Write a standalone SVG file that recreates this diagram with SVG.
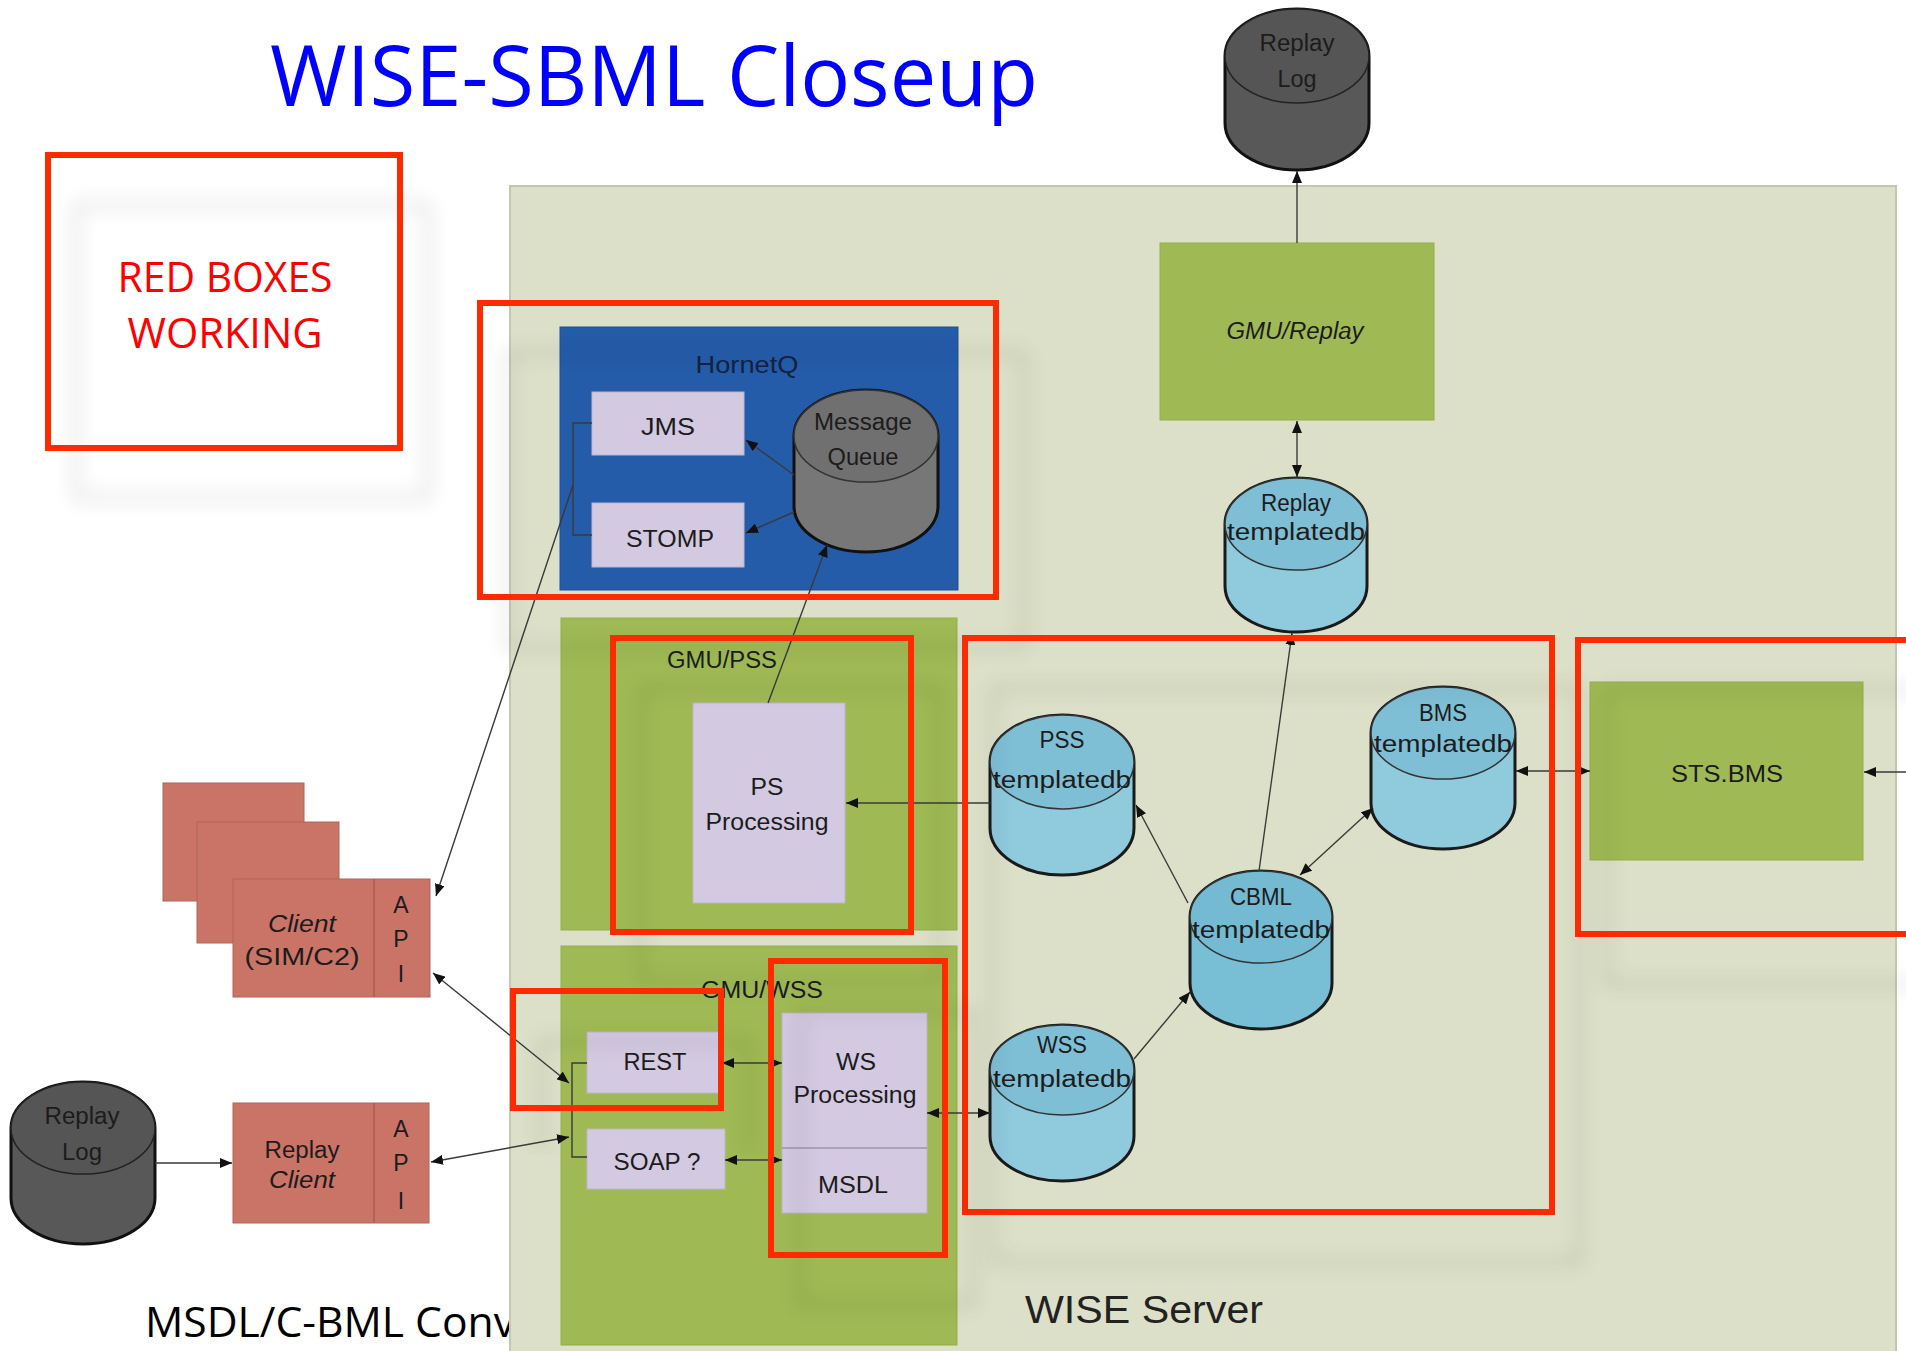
<svg xmlns="http://www.w3.org/2000/svg" width="1906" height="1351" viewBox="0 0 1906 1351">
<defs>
<style>
.lbl{font-family:"Liberation Sans","DejaVu Sans",sans-serif;font-size:23px;fill:#1c1c1c;text-anchor:middle}
.slide{font-family:"Open Sans","Noto Sans",sans-serif}
.red{fill:none;stroke:#FF2B00;stroke-width:6}
.green{fill:#9FBA54;stroke:#94ad4d;stroke-width:1}
.lav{fill:#D3C9E1;stroke:#bdb3cc;stroke-width:1}
.client{fill:#C97467;stroke:#b0645a;stroke-width:1}
.cylb{fill:#8FCADD;stroke:#1a1a1a;stroke-width:3}
.cylt{fill:#7EBFD6;stroke:#333;stroke-width:1.5}
.cylg{fill:#777;stroke:#111;stroke-width:3}
.cylgt{fill:#707070;stroke:#333;stroke-width:1.5}
.cyld{fill:#585858;stroke:#111;stroke-width:3}
.cyldt{fill:#555;stroke:#222;stroke-width:1.5}
.ln{fill:none;stroke:#3a3a3a;stroke-width:1.4}
</style>
<marker id="ah" viewBox="0 0 12 10" refX="12" refY="5" markerWidth="12" markerHeight="10" markerUnits="userSpaceOnUse" orient="auto-start-reverse">
<path d="M0,0 L12,5 L0,10 z" fill="#111"/>
</marker>
<filter id="sh" x="-20%" y="-20%" width="160%" height="160%">
<feOffset in="SourceAlpha" dx="28" dy="50" result="o"/>
<feGaussianBlur in="o" stdDeviation="10" result="b"/>
<feComponentTransfer in="b" result="c"><feFuncA type="linear" slope="0.14"/></feComponentTransfer>
<feMerge><feMergeNode in="c"/><feMergeNode in="SourceGraphic"/></feMerge>
</filter>
</defs>
<rect x="0" y="0" width="1906" height="1351" fill="#ffffff"/>

<g id="title">
<text class="slide" x="270" y="106" font-size="85" fill="#0000FF" textLength="768" lengthAdjust="spacingAndGlyphs">WISE-SBML Closeup</text>
</g>

<g id="caption">
<text class="slide" x="145" y="1337" font-size="42" fill="#000" textLength="370" lengthAdjust="spacingAndGlyphs">MSDL/C-BML Conv</text>
</g>

<g id="legend">
<rect class="red" x="48" y="155" width="352" height="293" filter="url(#sh)"/>
<text class="slide" x="225" y="292" font-size="42" fill="#FF0000" text-anchor="middle" textLength="215" lengthAdjust="spacingAndGlyphs">RED BOXES</text>
<text class="slide" x="225" y="348" font-size="42" fill="#FF0000" text-anchor="middle" textLength="195" lengthAdjust="spacingAndGlyphs">WORKING</text>
</g>

<g id="replay-log-top">
<path class="cyld" d="M1225,56 V123 A72,47 0 0 0 1369,123 V56 A72,47 0 0 0 1225,56 Z"/>
<ellipse class="cyldt" cx="1297" cy="56" rx="72" ry="47"/>
<text class="lbl" x="1297" y="51" textLength="75" lengthAdjust="spacingAndGlyphs">Replay</text>
<text class="lbl" x="1297" y="87" textLength="39" lengthAdjust="spacingAndGlyphs">Log</text>
</g>

<g id="wise-server">
<rect x="510" y="186" width="1386" height="1175" fill="#DDE0C8" stroke="#c3c6b2" stroke-width="2"/>
<text x="1025" y="1323" font-family="Liberation Sans, DejaVu Sans, sans-serif" font-size="39" fill="#222" textLength="238" lengthAdjust="spacingAndGlyphs">WISE Server</text>
</g>

<g id="gmu-replay">
<rect class="green" x="1160" y="243" width="274" height="177"/>
<text class="lbl" x="1295" y="339" textLength="137" lengthAdjust="spacingAndGlyphs" font-style="italic">GMU/Replay</text>
</g>

<g id="replay-templatedb">
<path class="cylb" d="M1225,524 V586 A71,46 0 0 0 1367,586 V524 A71,46 0 0 0 1225,524 Z"/>
<ellipse class="cylt" cx="1296" cy="524" rx="71" ry="46"/>
<text class="lbl" x="1296" y="511" textLength="70" lengthAdjust="spacingAndGlyphs">Replay</text>
<text class="lbl" x="1296" y="540" textLength="138" lengthAdjust="spacingAndGlyphs">templatedb</text>
</g>

<g id="hornetq">
<rect x="560" y="327" width="398" height="263" fill="#245CAA" stroke="#1f4f93" stroke-width="1"/>
<text class="lbl" x="747" y="373" style="fill:#14223f" font-size="25" textLength="103" lengthAdjust="spacingAndGlyphs">HornetQ</text>
</g>
<g id="jms">
<rect class="lav" x="592" y="392" width="152" height="63"/>
<text class="lbl" x="668" y="435" font-size="26" textLength="54" lengthAdjust="spacingAndGlyphs">JMS</text>
</g>
<g id="stomp">
<rect class="lav" x="592" y="503" width="152" height="64"/>
<text class="lbl" x="670" y="547" font-size="26" textLength="88" lengthAdjust="spacingAndGlyphs">STOMP</text>
</g>
<g id="message-queue">
<path class="cylg" d="M794,436 V506 A72,46 0 0 0 938,506 V436 A72,46 0 0 0 794,436 Z"/>
<ellipse class="cylgt" cx="866" cy="436" rx="72" ry="46"/>
<text class="lbl" x="863" y="430" textLength="98" lengthAdjust="spacingAndGlyphs">Message</text>
<text class="lbl" x="863" y="465" textLength="71" lengthAdjust="spacingAndGlyphs">Queue</text>
</g>

<g id="gmu-pss">
<rect class="green" x="561" y="618" width="396" height="312"/>
<text class="lbl" x="722" y="668" font-size="27" textLength="110" lengthAdjust="spacingAndGlyphs">GMU/PSS</text>
</g>
<g id="ps-processing">
<rect class="lav" x="693" y="703" width="152" height="200"/>
<text class="lbl" x="767" y="795" font-size="25" textLength="33" lengthAdjust="spacingAndGlyphs">PS</text>
<text class="lbl" x="767" y="830" font-size="25" textLength="123" lengthAdjust="spacingAndGlyphs">Processing</text>
</g>

<g id="gmu-wss">
<rect class="green" x="561" y="946" width="396" height="399"/>
<text class="lbl" x="762" y="998" font-size="27" textLength="122" lengthAdjust="spacingAndGlyphs">GMU/WSS</text>
</g>
<g id="rest">
<rect class="lav" x="587" y="1032" width="135" height="61"/>
<text class="lbl" x="655" y="1070" font-size="25" textLength="63" lengthAdjust="spacingAndGlyphs">REST</text>
</g>
<g id="soap">
<rect class="lav" x="587" y="1129" width="138" height="60"/>
<text class="lbl" x="657" y="1170" font-size="25" textLength="87" lengthAdjust="spacingAndGlyphs">SOAP ?</text>
</g>
<g id="ws-processing">
<rect class="lav" x="782" y="1013" width="145" height="200"/>
<line x1="782" y1="1148" x2="927" y2="1148" stroke="#9e94ad" stroke-width="1.5"/>
<text class="lbl" x="856" y="1070" font-size="25" textLength="40" lengthAdjust="spacingAndGlyphs">WS</text>
<text class="lbl" x="855" y="1103" font-size="25" textLength="123" lengthAdjust="spacingAndGlyphs">Processing</text>
<text class="lbl" x="853" y="1193" font-size="25" textLength="70" lengthAdjust="spacingAndGlyphs">MSDL</text>
</g>

<g id="pss-templatedb">
<path class="cylb" d="M990,762 V828 A72,47 0 0 0 1134,828 V762 A72,47 0 0 0 990,762 Z"/>
<ellipse class="cylt" cx="1062" cy="762" rx="72" ry="47"/>
<text class="lbl" x="1062" y="748" textLength="45" lengthAdjust="spacingAndGlyphs">PSS</text>
<text class="lbl" x="1062" y="788" textLength="138" lengthAdjust="spacingAndGlyphs">templatedb</text>
</g>
<g id="bms-templatedb">
<path class="cylb" d="M1371,733 V803 A72,46 0 0 0 1515,803 V733 A72,46 0 0 0 1371,733 Z"/>
<ellipse class="cylt" cx="1443" cy="733" rx="72" ry="46"/>
<text class="lbl" x="1443" y="721" textLength="48" lengthAdjust="spacingAndGlyphs">BMS</text>
<text class="lbl" x="1443" y="752" textLength="138" lengthAdjust="spacingAndGlyphs">templatedb</text>
</g>
<g id="cbml-templatedb">
<path class="cylb" d="M1190,917 V983 A71,46 0 0 0 1332,983 V917 A71,46 0 0 0 1190,917 Z" style="fill:#78BED5"/>
<ellipse class="cylt" cx="1261" cy="917" rx="71" ry="46" style="fill:#74BAD3"/>
<text class="lbl" x="1261" y="905" textLength="62" lengthAdjust="spacingAndGlyphs">CBML</text>
<text class="lbl" x="1261" y="938" textLength="138" lengthAdjust="spacingAndGlyphs">templatedb</text>
</g>
<g id="wss-templatedb">
<path class="cylb" d="M990,1070 V1136 A72,45 0 0 0 1134,1136 V1070 A72,45 0 0 0 990,1070 Z"/>
<ellipse class="cylt" cx="1062" cy="1070" rx="72" ry="45"/>
<text class="lbl" x="1062" y="1053" textLength="50" lengthAdjust="spacingAndGlyphs">WSS</text>
<text class="lbl" x="1062" y="1087" textLength="138" lengthAdjust="spacingAndGlyphs">templatedb</text>
</g>

<g id="sts-bms">
<rect class="green" x="1590" y="682" width="273" height="178"/>
<text class="lbl" x="1727" y="782" font-size="25" textLength="112" lengthAdjust="spacingAndGlyphs">STS.BMS</text>
</g>

<g id="client">
<rect class="client" x="163" y="783" width="141" height="118"/>
<rect class="client" x="197" y="822" width="142" height="121"/>
<rect class="client" x="233" y="879" width="197" height="118"/>
<line x1="374" y1="879" x2="374" y2="997" stroke="#a85e54" stroke-width="1.5"/>
<text class="lbl" x="302" y="932" font-style="italic" textLength="68" lengthAdjust="spacingAndGlyphs">Client</text>
<text class="lbl" x="302" y="965" textLength="115" lengthAdjust="spacingAndGlyphs">(SIM/C2)</text>
<text class="lbl" x="401" y="913">A</text>
<text class="lbl" x="401" y="947">P</text>
<text class="lbl" x="401" y="982">I</text>
</g>

<g id="replay-client">
<rect class="client" x="233" y="1103" width="196" height="120"/>
<line x1="374" y1="1103" x2="374" y2="1223" stroke="#a85e54" stroke-width="1.5"/>
<text class="lbl" x="302" y="1158" textLength="75" lengthAdjust="spacingAndGlyphs">Replay</text>
<text class="lbl" x="302" y="1188" font-style="italic" textLength="66" lengthAdjust="spacingAndGlyphs">Client</text>
<text class="lbl" x="401" y="1137">A</text>
<text class="lbl" x="401" y="1171">P</text>
<text class="lbl" x="401" y="1209">I</text>
</g>

<g id="replay-log-left">
<path class="cyld" d="M11,1128 V1198 A72,46 0 0 0 155,1198 V1128 A72,46 0 0 0 11,1128 Z"/>
<ellipse class="cyldt" cx="83" cy="1128" rx="72" ry="46"/>
<text class="lbl" x="82" y="1124" textLength="75" lengthAdjust="spacingAndGlyphs">Replay</text>
<text class="lbl" x="82" y="1160" textLength="40" lengthAdjust="spacingAndGlyphs">Log</text>
</g>

<g id="connectors">
<line class="ln" x1="1297" y1="243" x2="1297" y2="171" marker-end="url(#ah)"/>
<line class="ln" x1="1297" y1="421" x2="1297" y2="477" marker-start="url(#ah)" marker-end="url(#ah)"/>
<line class="ln" x1="1259" y1="871" x2="1292" y2="633" marker-end="url(#ah)"/>
<line class="ln" x1="1188" y1="903" x2="1136" y2="805" marker-end="url(#ah)"/>
<line class="ln" x1="1300" y1="875" x2="1373" y2="808" marker-start="url(#ah)" marker-end="url(#ah)"/>
<line class="ln" x1="1134" y1="1059" x2="1190" y2="992" marker-end="url(#ah)"/>
<line class="ln" x1="1516" y1="771" x2="1590" y2="771" marker-start="url(#ah)" marker-end="url(#ah)"/>
<line class="ln" x1="1906" y1="772" x2="1864" y2="772" marker-end="url(#ah)"/>
<line class="ln" x1="990" y1="803" x2="846" y2="803" marker-end="url(#ah)"/>
<line class="ln" x1="768" y1="703" x2="827" y2="545" marker-end="url(#ah)"/>
<line class="ln" x1="794" y1="475" x2="746" y2="440" marker-end="url(#ah)"/>
<line class="ln" x1="794" y1="512" x2="746" y2="533" marker-end="url(#ah)"/>
<path class="ln" d="M592,423 H573 V535 H592"/>
<line class="ln" x1="573" y1="485" x2="436" y2="896" marker-end="url(#ah)"/>
<line class="ln" x1="433" y1="973" x2="569" y2="1083" marker-start="url(#ah)" marker-end="url(#ah)"/>
<line class="ln" x1="155" y1="1163" x2="232" y2="1163" marker-end="url(#ah)"/>
<line class="ln" x1="431" y1="1162" x2="569" y2="1137" marker-start="url(#ah)" marker-end="url(#ah)"/>
<path class="ln" d="M587,1063 H572 V1157 H587"/>
<line class="ln" x1="722" y1="1063" x2="782" y2="1063" marker-start="url(#ah)" marker-end="url(#ah)"/>
<line class="ln" x1="725" y1="1160" x2="782" y2="1160" marker-start="url(#ah)" marker-end="url(#ah)"/>
<line class="ln" x1="927" y1="1113" x2="990" y2="1113" marker-start="url(#ah)" marker-end="url(#ah)"/>
</g>

<g id="red-boxes">
<rect class="red" x="480" y="303" width="516" height="294" filter="url(#sh)"/>
<rect class="red" x="613" y="638" width="298" height="294" filter="url(#sh)"/>
<rect class="red" x="965" y="638" width="587" height="574" filter="url(#sh)"/>
<rect class="red" x="1578" y="640" width="340" height="294" filter="url(#sh)"/>
<rect class="red" x="513" y="991" width="208" height="117" filter="url(#sh)"/>
<rect class="red" x="771" y="961" width="174" height="294" filter="url(#sh)"/>
</g>
</svg>
